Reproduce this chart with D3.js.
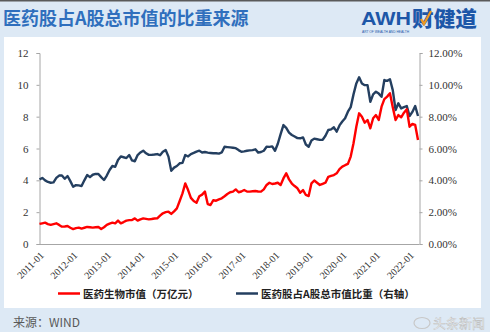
<!DOCTYPE html>
<html>
<head>
<meta charset="utf-8">
<script src="https://cdn.jsdelivr.net/npm/d3@7"></script>
<style>
  html, body { margin: 0; padding: 0; background: #dde9f5; }
  svg { display: block; }
</style>
</head>
<body>
<svg id="chart" width="490" height="332"></svg>
<script>
// ---- data (monthly, 2011-01 .. 2022-04) ----
const startYear = 2011, startMonth = 1, monthCount = 136;
const months = d3.range(monthCount).map(i => {
  const y = startYear + Math.floor((startMonth - 1 + i) / 12);
  const m = ((startMonth - 1 + i) % 12) + 1;
  return y + "-" + String(m).padStart(2, "0");
});

// 医药生物市值（万亿元）
const marketCap = [
  1.26,1.30,1.34,1.25,1.20,1.25,1.30,1.20,1.09,1.10,1.13,1.02,
  0.94,1.00,1.03,0.97,1.02,1.07,1.05,1.03,1.05,1.07,0.94,1.05,
  1.20,1.28,1.34,1.30,1.47,1.30,1.38,1.47,1.50,1.51,1.61,1.47,
  1.55,1.61,1.58,1.55,1.57,1.60,1.61,1.78,1.93,2.00,2.03,1.89,
  2.05,2.24,2.70,3.18,3.81,3.39,2.90,2.70,2.59,3.00,3.10,3.29,
  2.51,2.45,2.75,2.72,2.80,2.87,3.00,3.14,3.25,3.29,3.43,3.25,
  3.30,3.39,3.30,3.29,3.31,3.33,3.30,3.29,3.43,3.71,3.85,3.77,
  3.80,3.85,3.71,4.12,4.44,4.06,3.80,3.64,3.50,3.22,3.39,3.08,
  3.01,3.81,3.99,3.85,3.71,3.78,3.85,4.22,4.28,4.33,4.44,4.70,
  4.86,4.95,5.03,5.49,6.33,7.37,8.21,8.00,7.62,7.79,7.27,7.90,
  8.10,7.79,8.63,9.10,9.26,9.47,8.59,7.79,8.10,7.96,8.25,8.46,
  7.37,7.54,7.48,6.53
];

// 医药股占A股总市值比重（右轴, %）
const shareOfA = [
  4.06,4.15,4.00,3.90,3.85,3.87,4.15,4.30,4.30,4.10,4.27,3.95,
  3.60,3.70,3.68,3.64,4.00,4.33,4.20,4.35,4.40,4.40,4.20,4.02,
  4.30,4.65,4.90,4.85,5.28,5.50,5.45,5.40,5.59,5.25,5.20,5.59,
  5.75,5.86,5.70,5.60,5.60,5.62,5.65,5.58,5.80,5.90,5.49,4.60,
  4.80,4.90,5.07,5.10,5.59,5.50,5.65,5.72,5.80,5.86,5.75,5.78,
  5.74,5.72,5.70,5.70,5.68,5.75,6.11,6.09,6.07,6.05,6.02,5.90,
  5.80,5.82,5.86,5.88,5.90,5.95,5.74,5.78,5.86,6.11,6.10,6.13,
  5.86,6.30,6.90,7.47,7.30,7.00,6.85,6.75,6.65,6.64,6.70,6.25,
  6.11,6.50,6.62,6.58,6.54,6.55,6.80,7.16,7.20,7.33,7.06,7.45,
  7.70,7.90,8.31,8.60,9.40,10.09,10.47,10.09,9.98,9.98,8.94,9.40,
  9.57,9.45,9.25,10.30,10.25,10.35,9.67,8.42,8.84,8.52,8.60,8.67,
  8.04,8.30,8.67,8.04
];

const xTickLabels = ["2011-01","2012-01","2013-01","2014-01","2015-01","2016-01",
                     "2017-01","2018-01","2019-01","2020-01","2021-01","2022-01"];
const leftTicks = [0, 2, 4, 6, 8, 10, 12];
const rightTicks = [0, 2, 4, 6, 8, 10, 12];
const seriesNames = ["医药生物市值（万亿元）", "医药股占A股总市值比重（右轴）"];
const titleText = "医药股占A股总市值的比重来源";
const sourceText = "来源：WIND";

// ---- drawing ----
const svg = d3.select("#chart");
const W = 490, H = 332;

svg.append("rect").attr("x", 0).attr("y", 0).attr("width", W).attr("height", H).attr("fill", "#dde9f5");
svg.append("rect").attr("x", 0).attr("y", 0).attr("width", W).attr("height", 1.5).attr("fill", "#5a5a5a");

// title
svg.append("text").attr("x", 3).attr("y", 25)
  .attr("font-family", "'Noto Sans CJK SC', sans-serif")
  .attr("font-weight", 700).attr("font-size", 18).attr("fill", "#2f6fbd")
  .text(titleText);

// logo
const logo = svg.append("g");
logo.append("text").attr("x", 361).attr("y", 25)
  .attr("font-family", "'Liberation Sans', Arial, sans-serif")
  .attr("font-weight", 700).attr("font-size", 19).attr("fill", "#1d57a8")
  .attr("textLength", 50).attr("lengthAdjust", "spacingAndGlyphs")
  .text("AWH");
logo.append("text").attr("x", 412).attr("y", 25.5)
  .attr("font-family", "'Noto Sans CJK SC', sans-serif")
  .attr("font-weight", 900).attr("font-size", 21).attr("fill", "#1d57a8")
  .attr("textLength", 65).attr("lengthAdjust", "spacingAndGlyphs")
  .text("财健道");
logo.append("path").attr("d", "M421,19 L424,24 L431,11").attr("fill", "none")
  .attr("stroke", "#f29a1f").attr("stroke-width", 2.2);
logo.append("text").attr("x", 362).attr("y", 32.8)
  .attr("font-family", "'Liberation Sans', Arial, sans-serif")
  .attr("font-size", 3.4).attr("fill", "#1d57a8")
  .attr("textLength", 47).attr("lengthAdjust", "spacingAndGlyphs")
  .text("ART OF WEALTH AND HEALTH");

// white panel
svg.append("rect").attr("x", 4).attr("y", 37).attr("width", 477).attr("height", 271).attr("fill", "#ffffff");

// scales
const x = d3.scaleLinear().domain([0, monthCount - 1]).range([39.5, 418]);
const yL = d3.scaleLinear().domain([0, 12]).range([244, 53]);
const yR = d3.scaleLinear().domain([0, 12]).range([244, 53]);

const axisColor = "#a6a6a6";
const serif = "'Liberation Serif', 'Times New Roman', serif";

// left axis
const gL = svg.append("g").attr("transform", "translate(39.5,0)")
  .call(d3.axisLeft(yL).tickValues(leftTicks).tickSize(3).tickPadding(8).tickFormat(d3.format("d")));
gL.select(".domain").attr("stroke", axisColor);
gL.selectAll(".tick line").attr("stroke", axisColor);
gL.selectAll(".tick text").attr("font-family", serif).attr("font-size", 11).attr("fill", "#333");

// right axis
const gR = svg.append("g").attr("transform", "translate(419.5,0)")
  .call(d3.axisRight(yR).tickValues(rightTicks).tickSize(3).tickPadding(6).tickFormat(d => d.toFixed(2) + "%"));
gR.select(".domain").attr("stroke", axisColor);
gR.selectAll(".tick line").attr("stroke", axisColor);
gR.selectAll(".tick text").attr("font-family", serif).attr("font-size", 11).attr("fill", "#333");

// bottom axis
const tickIdx = xTickLabels.map(l => months.indexOf(l));
const gB = svg.append("g").attr("transform", "translate(0,244.5)")
  .call(d3.axisBottom(x).tickValues(tickIdx).tickSize(0).tickFormat(i => months[i]));
gB.select(".domain").attr("stroke", axisColor).attr("d", "M39.5,0H419.5");
gB.selectAll(".tick text")
  .attr("font-family", serif).attr("font-size", 10).attr("fill", "#333")
  .attr("text-anchor", "end")
  .attr("transform", "translate(2,9) rotate(-45)")
  .attr("y", 0).attr("dy", "0.35em");

// lines
const lineL = d3.line().x((d, i) => x(i)).y(d => yL(d));
const lineR = d3.line().x((d, i) => x(i)).y(d => yR(d));
svg.append("path").datum(shareOfA).attr("d", lineR).attr("fill", "none")
  .attr("stroke", "#243f60").attr("stroke-width", 2.4).attr("stroke-linejoin", "round");
svg.append("path").datum(marketCap).attr("d", lineL).attr("fill", "none")
  .attr("stroke", "#ff0000").attr("stroke-width", 2.4).attr("stroke-linejoin", "round");

// legend
const cjk = "'Noto Sans CJK SC', sans-serif";
const legend = [
  { name: seriesNames[0], color: "#ff0000", x: 58 },
  { name: seriesNames[1], color: "#243f60", x: 236 }
];
legend.forEach(l => {
  svg.append("line").attr("x1", l.x).attr("x2", l.x + 22).attr("y1", 293.5).attr("y2", 293.5)
    .attr("stroke", l.color).attr("stroke-width", 2.5);
  svg.append("text").attr("x", l.x + 25).attr("y", 297.5)
    .attr("font-family", cjk).attr("font-weight", 700).attr("font-size", 10.5).attr("fill", "#222")
    .text(l.name);
});

// source
svg.append("text").attr("x", 13).attr("y", 327)
  .attr("font-family", "'Noto Sans CJK SC', 'Liberation Sans', sans-serif")
  .attr("font-size", 12).attr("fill", "#595959")
  .text(sourceText);

// watermark
svg.append("text").attr("x", 433).attr("y", 328)
  .attr("font-family", cjk).attr("font-size", 13).attr("fill", "#f4f4f4")
  .attr("stroke", "#b8b8b8").attr("stroke-width", 0.4)
  .text("头条新闻");
svg.append("ellipse").attr("cx", 422).attr("cy", 323).attr("rx", 8).attr("ry", 5.5)
  .attr("fill", "none").attr("stroke", "#c8c8c8").attr("stroke-width", 1.2);
</script>
</body>
</html>
